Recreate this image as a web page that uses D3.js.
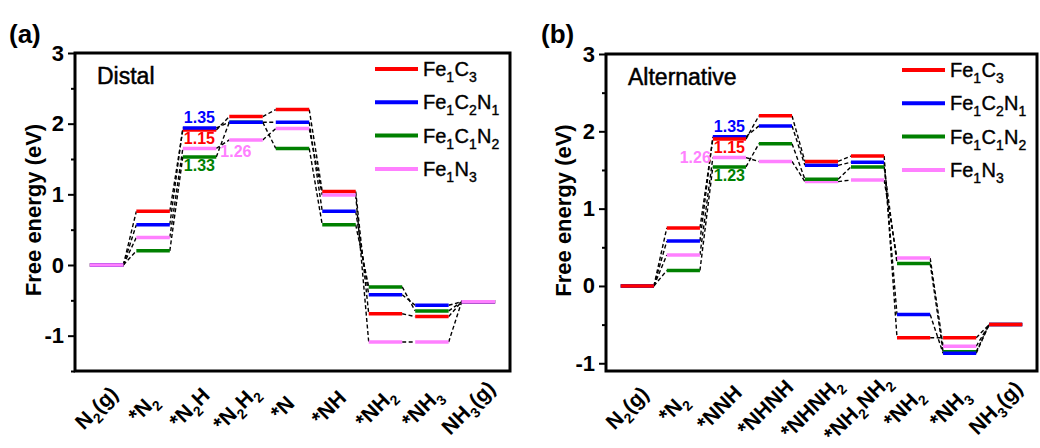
<!DOCTYPE html>
<html>
<head>
<meta charset="utf-8">
<script src="https://cdn.jsdelivr.net/npm/d3@7"></script>
<style>
  body { margin: 0; background: #fff; }
  text { font-family: "Liberation Sans", Arial, sans-serif; }
</style>
</head>
<body>
<div id="chart"></div>
<script>
// "_x" marks a subscript character
var seriesNames = ["Fe_1C_3", "Fe_1C_2N_1", "Fe_1C_1N_2", "Fe_1N_3"];
var seriesColors = ["#ff0000", "#0000ff", "#008000", "#ff80ff"];

var stepsA = ["N_2(g)", "*N_2", "*N_2H", "*N_2H_2", "*N", "*NH", "*NH_2", "*NH_3", "NH_3(g)"];
var fe1c3A   = [0, 0.76, 1.91, 2.10, 2.20, 1.04, -0.69, -0.73, -0.52];
var fe1c2n1A = [0, 0.57, 1.94, 2.02, 2.02, 0.76, -0.42, -0.57, -0.52];
var fe1c1n2A = [0, 0.20, 1.53, 2.02, 1.65, 0.57, -0.31, -0.65, -0.52];
var fe1n3A   = [0, 0.39, 1.65, 1.77, 1.93, 0.99, -1.09, -1.09, -0.52];

var stepsB = ["N_2(g)", "*N_2", "*NNH", "*NHNH", "*NHNH_2", "*NH_2NH_2", "*NH_2", "*NH_3", "NH_3(g)"];
var fe1c3B   = [0, 0.75, 1.90, 2.20, 1.61, 1.68, -0.67, -0.67, -0.50];
var fe1c2n1B = [0, 0.58, 1.93, 2.07, 1.56, 1.60, -0.37, -0.87, -0.50];
var fe1c1n2B = [0, 0.20, 1.54, 1.84, 1.38, 1.54, 0.29, -0.85, -0.50];
var fe1n3B   = [0, 0.40, 1.66, 1.61, 1.35, 1.37, 0.36, -0.78, -0.50];

var yTicks = [-1, 0, 1, 2, 3];

// limiting-step labels: [text, series, step index, placement]
var notesA = [["1.35", 1, 2, "above"], ["1.15", 0, 2, "below"], ["1.33", 2, 2, "below"], ["1.26", 3, 2, "right"]];
var notesB = [["1.35", 1, 2, "above"], ["1.15", 0, 2, "below"], ["1.23", 2, 2, "below"], ["1.26", 3, 2, "left"]];

var svg = d3.select("#chart").append("svg")
    .attr("width", 1040)
    .attr("height", 448);

function richText(sel, str, size) {
    var sub = Math.round(size * 0.68);
    var shift = Math.round(size * 0.28);
    var i = 0;
    while (i < str.length) {
        if (str[i] === "_") {
            sel.append("tspan").attr("dy", shift).attr("font-size", sub).text(str[i + 1]);
            sel.append("tspan").attr("dy", -shift).text(" ").attr("font-size", 1);
            i += 2;
        } else {
            var j = i;
            while (j < str.length && str[j] !== "_") j++;
            sel.append("tspan").text(str.slice(i, j));
            i = j;
        }
    }
}

function drawPanel(p) {
    var g = svg.append("g");
    var x = d3.scalePoint().domain(d3.range(p.steps.length)).range([p.left, p.right]).padding(0.68);
    var y = d3.scaleLinear().domain(p.yDomain).range([p.bottom, p.top]);
    var hw = x.step() * 0.36;

    // minor + major ticks
    var minor = d3.range(-1.5, 3, 1).filter(function(v) { return v >= p.yDomain[0]; });
    g.append("g")
        .attr("transform", "translate(" + p.left + ",0)")
        .call(d3.axisLeft(y).tickValues(minor).tickSize(4).tickFormat(""))
        .call(function(a) { a.select(".domain").remove(); a.selectAll("line").attr("stroke-width", 2); });
    g.append("g")
        .attr("transform", "translate(" + p.left + ",0)")
        .call(d3.axisLeft(y).tickValues(yTicks).tickSize(7).tickPadding(4).tickFormat(function(d) { return String(d); }))
        .call(function(a) {
            a.select(".domain").remove();
            a.selectAll("line").attr("stroke-width", 2);
            a.selectAll("text").attr("font-size", 22).attr("font-weight", "bold")
                .attr("font-family", "Liberation Sans, Arial, sans-serif").attr("fill", "#000");
        });

    g.append("text")
        .attr("transform", "translate(" + p.titleX + "," + ((p.top + p.bottom) / 2 - 2) + ") rotate(-90)")
        .attr("text-anchor", "middle")
        .attr("dominant-baseline", "central")
        .attr("font-size", 22).attr("font-weight", "bold")
        .text("Free energy (eV)");

    // step labels, rotated 45 degrees
    p.steps.forEach(function(s, i) {
        var t = g.append("g")
            .attr("transform", "translate(" + (x(i) - 10) + ",408) rotate(-45)")
            .append("text")
            .attr("text-anchor", "middle")
            .attr("y", 7)
            .attr("font-size", 21).attr("font-weight", "bold");
        richText(t, s, 21);
    });

    // dashed connectors
    p.series.forEach(function(vals) {
        for (var i = 0; i < vals.length - 1; i++) {
            g.append("line")
                .attr("x1", x(i) + hw).attr("y1", y(vals[i]))
                .attr("x2", x(i + 1) - hw).attr("y2", y(vals[i + 1]))
                .attr("stroke", "#000").attr("stroke-width", 1.4)
                .attr("stroke-dasharray", "4,2.5");
        }
    });

    // energy levels
    p.order.forEach(function(k) {
        g.selectAll(null)
            .data(p.series[k])
            .enter()
            .append("line")
            .attr("x1", function(d, i) { return x(i) - hw; })
            .attr("x2", function(d, i) { return x(i) + hw; })
            .attr("y1", function(d) { return y(d); })
            .attr("y2", function(d) { return y(d); })
            .attr("stroke", seriesColors[k])
            .attr("stroke-width", 3.5);
    });

    // notes
    p.notes.forEach(function(n) {
        var v = p.series[n[1]][n[2]];
        var t = g.append("text")
            .attr("font-size", 16).attr("font-weight", "bold")
            .attr("fill", seriesColors[n[1]])
            .text(n[0]);
        if (n[3] === "above") t.attr("x", x(n[2]) - hw + 1).attr("y", y(v) - 5);
        if (n[3] === "below") t.attr("x", x(n[2]) - hw + 1).attr("y", y(v) + 14);
        if (n[3] === "right") t.attr("x", x(n[2]) + hw + 4).attr("y", y(v) + 9);
        if (n[3] === "left") t.attr("x", x(n[2]) - hw - 2).attr("y", y(v) + 5).attr("text-anchor", "end");
    });

    // frame
    g.append("rect")
        .attr("x", p.left).attr("y", p.top)
        .attr("width", p.right - p.left).attr("height", p.bottom - p.top)
        .attr("fill", "none").attr("stroke", "#000").attr("stroke-width", 3);

    g.append("text")
        .attr("x", p.left + 22).attr("y", p.top + 31)
        .attr("font-size", 23)
        .attr("stroke", "#000").attr("stroke-width", 0.5)
        .text(p.name);

    // legend
    seriesNames.forEach(function(s, i) {
        var ly = p.top + 16 + i * 33.3;
        g.append("line")
            .attr("x1", p.legendX).attr("x2", p.legendX + 43)
            .attr("y1", ly).attr("y2", ly)
            .attr("stroke", seriesColors[i]).attr("stroke-width", 4);
        var t = g.append("text")
            .attr("x", p.legendX + 48).attr("y", ly + 7)
            .attr("font-size", 20)
            .attr("stroke", "#000").attr("stroke-width", 0.4);
        richText(t, s, 20);
    });

    svg.append("text")
        .attr("x", p.labelX).attr("y", 43)
        .attr("font-size", 26).attr("font-weight", "bold")
        .text(p.label);
}

drawPanel({
    label: "(a)", name: "Distal", labelX: 9,
    left: 75, right: 510, top: 53, bottom: 371, yDomain: [-1.5, 3],
    titleX: 33, legendX: 375,
    steps: stepsA,
    series: [fe1c3A, fe1c2n1A, fe1c1n2A, fe1n3A],
    order: [2, 0, 1, 3],
    notes: notesA
});

drawPanel({
    label: "(b)", name: "Alternative", labelX: 541,
    left: 606, right: 1037, top: 54, bottom: 371, yDomain: [-1.1, 3],
    titleX: 563, legendX: 902,
    steps: stepsB,
    series: [fe1c3B, fe1c2n1B, fe1c1n2B, fe1n3B],
    order: [3, 2, 1, 0],
    notes: notesB
});
</script>
</body>
</html>
